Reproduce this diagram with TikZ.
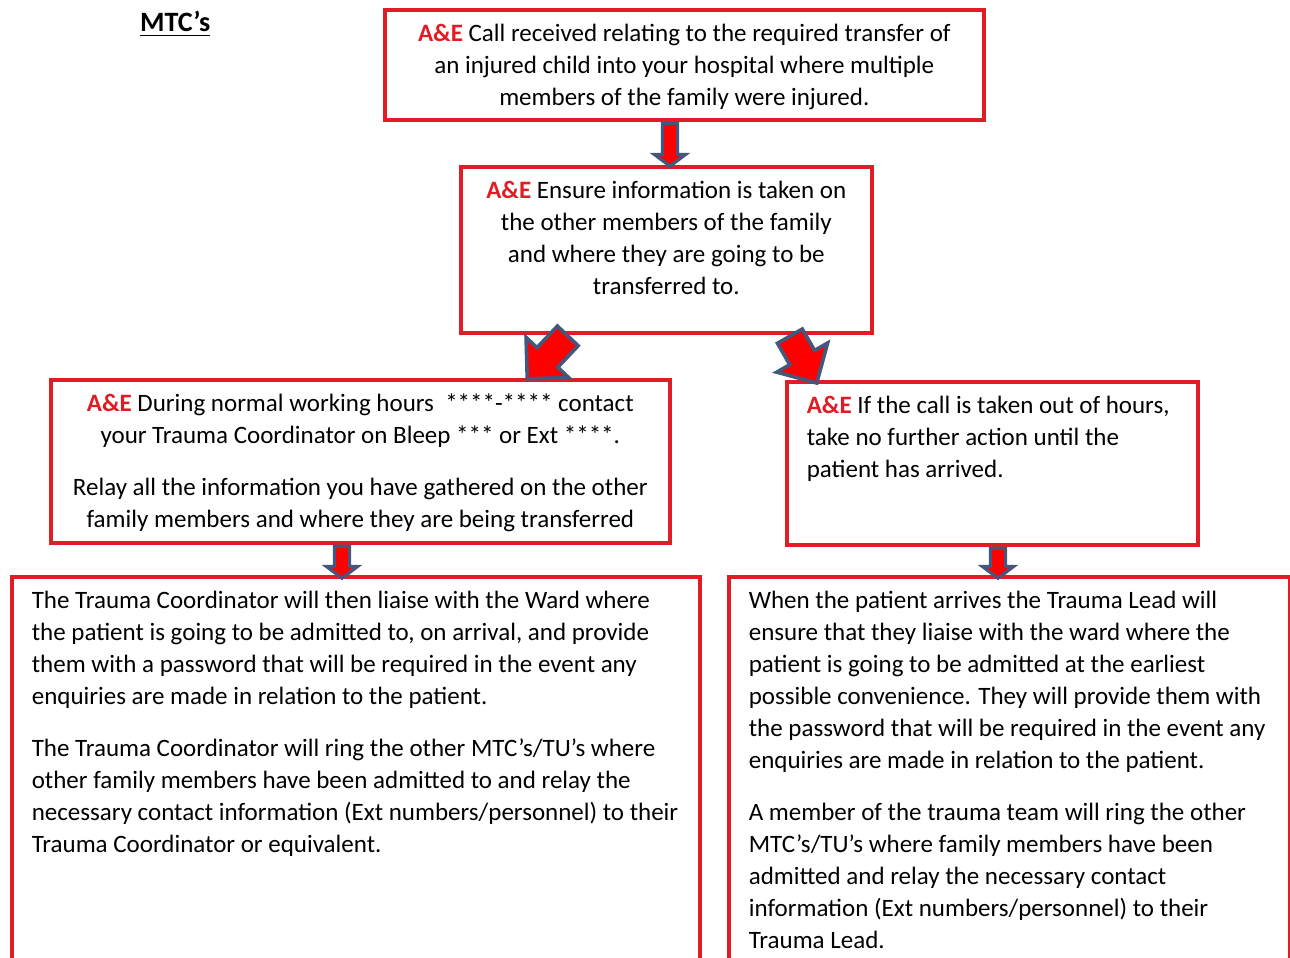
\documentclass[tikz,border=0pt]{standalone}
\usepackage{fontspec}
\setmainfont{Carlito}
\usetikzlibrary{shapes.arrows}
\definecolor{boxred}{RGB}{225,28,36}
\definecolor{arrowblue}{RGB}{68,88,125}
\newcommand{\AandE}{\textcolor{boxred}{\bfseries A\&E}}
\newcommand{\boxtext}[3]{\parbox[c][#1][t]{#2}{#3}}
\begin{document}
\begin{tikzpicture}[x=0.5pt, y=-0.5pt,
    box/.style={draw=boxred, line width=1.8pt, inner xsep=0pt, inner ysep=4.5pt, anchor=north west, font=\fontsize{12.5}{16}\selectfont},
    blockarr/.style={single arrow, draw=arrowblue, fill=red, inner xsep=0pt, pos=0, anchor=tail, sloped, allow upside down, line width=1.4pt},
    bigarr/.style={blockarr, line width=1.8pt, inner ysep=6.25pt, single arrow head extend=7.5pt, single arrow tip angle=90},
    smallarr/.style={blockarr, line width=1.6pt, inner ysep=3pt, single arrow head extend=4pt, single arrow tip angle=106}
]
    \useasboundingbox[fill=white] (0,0) rectangle (1290,958);

    \node[anchor=base west, font=\bfseries\fontsize{14}{16}\selectfont] (title) at (133,32) {\underline{MTC’s}};

    \node[box] (call) at (383,8) {\boxtext{46pt}{299.5pt}{\centering\strut\AandE{} Call received relating to the required transfer of\\ an injured child into your hospital where multiple\\ members of the family were injured.}};
    \node[box] (info) at (459,165) {\boxtext{74pt}{205.5pt}{\centering\strut\AandE{} Ensure information is taken on\\ the other members of the family\\ and where they are going to be\\ transferred to.}};
    \node[box] (hours) at (49,378) {\boxtext{72.5pt}{309.5pt}{\centering\strut\AandE{} During normal working hours\ \ ****-**** contact\\ your Trauma Coordinator on Bleep *** or Ext ****.\\[10pt] Relay all the information you have gathered on the other\\ family members and where they are being transferred}};
    \node[box, inner xsep=10pt] (outhours) at (785,380) {\boxtext{72.5pt}{185.5pt}{\raggedright\strut\AandE{} If the call is taken out of hours,\\ take no further action until the\\ patient has arrived.}};

    \node[box, inner xsep=10pt] (coord) at (10,575) {\boxtext{193.5pt}{324pt}{\raggedright\strut The Trauma Coordinator will then liaise with the Ward where\\ the patient is going to be admitted to, on arrival, and provide\\ them with a password that will be required in the event any\\ enquiries are made in relation to the patient.\\[10pt] The Trauma Coordinator will ring the other MTC’s/TU’s where\\ other family members have been admitted to and relay the\\ necessary contact information (Ext numbers/personnel) to their\\ Trauma Coordinator or equivalent.}};
    \node[box, inner xsep=10pt] (lead) at (727,575) {\boxtext{193.5pt}{260.5pt}{\raggedright\strut When the patient arrives the Trauma Lead will\\ ensure that they liaise with the ward where the\\ patient is going to be admitted at the earliest\\ possible convenience. They will provide them with\\ the password that will be required in the event any\\ enquiries are made in relation to the patient.\\[10pt] A member of the trauma team will ring the other\\ MTC’s/TU’s where family members have been\\ admitted and relay the necessary contact\\ information (Ext numbers/personnel) to their\\ Trauma Lead.}};

    % block arrows
    \path (call.south -| 670,0) -- (info.north -| 670,0) node[smallarr, minimum height=21.5pt] (arr1) {};
    \path (info.south -| 569,0) -- (hours.north -| 528,0) node[bigarr, minimum height=29.5pt] (arr2) {};
    \path (info.south -| 789,0) -- (outhours.north -| 815,0) node[bigarr, minimum height=27pt] (arr3) {};
    \path (hours.south -| 342,0) -- (coord.north -| 342,0) node[smallarr, minimum height=16pt] (arr4) {};
    \path (outhours.south -| 998,0) -- (lead.north -| 998,0) node[smallarr, minimum height=15pt] (arr5) {};
\end{tikzpicture}
\end{document}
